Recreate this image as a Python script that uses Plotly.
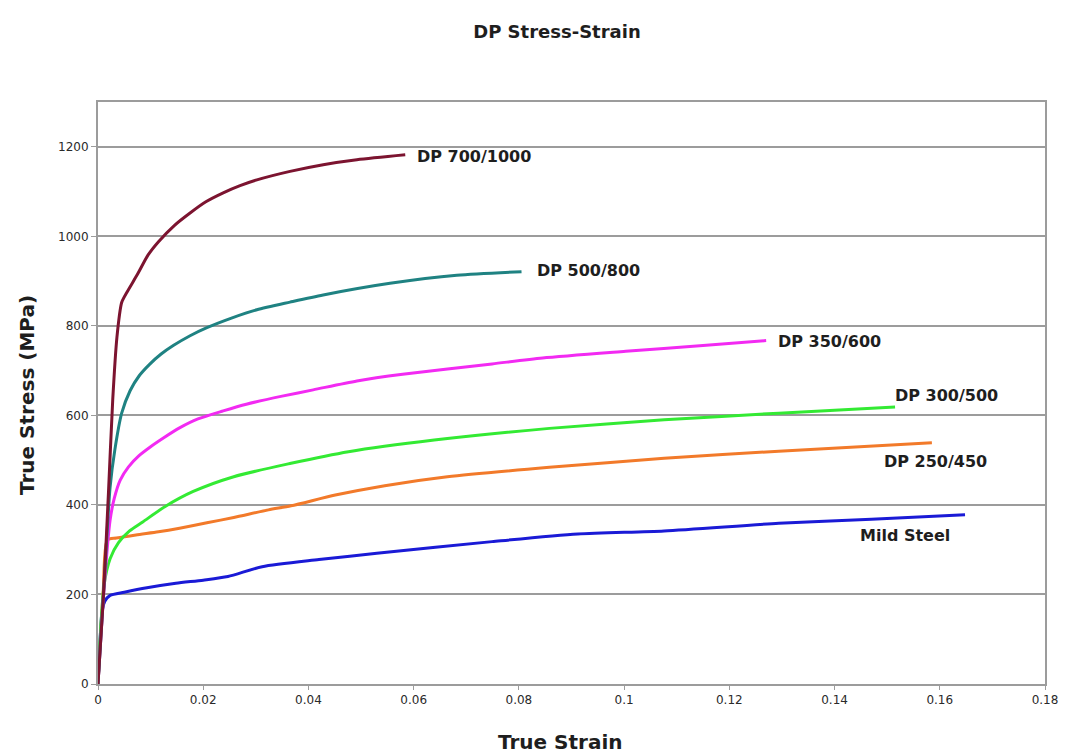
import plotly.graph_objects as go

# True stress-strain curves for dual-phase steels and mild steel
mild_x = [0, 0.0004, 0.0008, 0.0013, 0.0023, 0.005, 0.0093, 0.0148, 0.0200, 0.0247,
          0.0312, 0.0420, 0.053, 0.0749, 0.0912, 0.1076, 0.1294, 0.1470, 0.1648]
mild_y = [0, 100, 165, 185, 198, 205, 215, 225, 232, 240,
          262, 278, 292, 318, 335, 342, 359, 368, 378]

dp250_x = [0, 0.001, 0.0018, 0.0035, 0.0072, 0.0115, 0.0155, 0.0207, 0.0258, 0.0324,
           0.0367, 0.0451, 0.0545, 0.0664, 0.0858, 0.1076, 0.1294, 0.1585]
dp250_y = [0, 210, 322, 326, 333, 340, 348, 360, 372, 389,
           398, 422, 443, 463, 484, 504, 520, 539]

dp300_x = [0, 0.0006, 0.0012, 0.0023, 0.0039, 0.006, 0.0085, 0.0127, 0.0181, 0.0258,
           0.0367, 0.0476, 0.0639, 0.0858, 0.1076, 0.1294, 0.1515]
dp300_y = [0, 140, 225, 280, 316, 342, 362, 396, 430, 463,
           493, 519, 545, 571, 590, 605, 619]

dp350_x = [0, 0.0012, 0.0023, 0.0031, 0.0042, 0.0058, 0.0078, 0.0100, 0.0125, 0.0155,
           0.019, 0.0238, 0.0282, 0.035, 0.0409, 0.0492, 0.0579, 0.0749, 0.0845,
           0.1003, 0.115, 0.127]
dp350_y = [0, 220, 366, 415, 455, 485, 510, 530, 550, 572,
           592, 610, 625, 643, 657, 677, 692, 715, 728,
           743, 756, 767]

dp500_x = [0, 0.0012, 0.0023, 0.0032, 0.0045, 0.0061, 0.0078, 0.0098, 0.0120, 0.0143,
           0.0175, 0.0207, 0.0255, 0.0302, 0.0365, 0.0428, 0.0555, 0.0682, 0.0805]
dp500_y = [0, 230, 440, 523, 605, 655, 688, 714, 737, 756,
           778, 796, 818, 836, 853, 869, 895, 913, 921]

dp700_x = [0, 0.001, 0.002, 0.0028, 0.0036, 0.0045, 0.0055, 0.0075, 0.0095, 0.0115,
           0.0145, 0.0175, 0.0205, 0.0238, 0.0270, 0.0302, 0.0365, 0.0428, 0.0492, 0.0584]
dp700_y = [0, 190, 430, 635, 775, 852, 875, 915, 958, 988,
           1024, 1052, 1077, 1097, 1113, 1126, 1145, 1160, 1171, 1182]

series_names = ["Mild Steel", "DP 250/450", "DP 300/500", "DP 350/600", "DP 500/800", "DP 700/1000"]
series_x = [mild_x, dp250_x, dp300_x, dp350_x, dp500_x, dp700_x]
series_y = [mild_y, dp250_y, dp300_y, dp350_y, dp500_y, dp700_y]
colors = ["#1a1ad6", "#f27a2a", "#33ea33", "#f22af2", "#1f8282", "#7c1430"]

# Curve label anchor points (strain, stress)
label_x = [0.1445, 0.149, 0.1512, 0.1289, 0.0831, 0.0603]
label_y = [331, 496, 644, 766, 923, 1178]

y_ticks = [0, 200, 400, 600, 800, 1000, 1200]
x_ticks = [0, 0.02, 0.04, 0.06, 0.08, 0.1, 0.12, 0.14, 0.16, 0.18]

fig = go.Figure()
for name, xs, ys, c in zip(series_names, series_x, series_y, colors):
    fig.add_trace(go.Scatter(
        x=xs, y=ys, mode="lines", name=name,
        line=dict(color=c, width=3, shape="spline", smoothing=0.7),
        showlegend=False,
    ))

label_font = dict(family="DejaVu Sans", size=16, color="#1e1e1e", weight="bold")
for name, lx, ly in zip(series_names, label_x, label_y):
    fig.add_annotation(x=lx, y=ly, text=name, showarrow=False,
                       xanchor="left", yanchor="middle", font=label_font)

# Axis titles placed in paper coordinates
axis_title_font = dict(family="DejaVu Sans", size=20, color="#1e1e1e", weight="bold")
fig.add_annotation(text="True Strain", xref="paper", yref="paper", x=0.488, y=-0.0997,
                   xanchor="center", yanchor="middle", showarrow=False, font=axis_title_font)
fig.add_annotation(text="True Stress (MPa)", xref="paper", yref="paper", x=-0.075, y=0.4966,
                   xanchor="center", yanchor="middle", textangle=-90, showarrow=False,
                   font=axis_title_font)

grid_color = "#9c9c9c"
fig.update_layout(
    width=1068, height=755,
    margin=dict(l=98, r=23, t=102, b=71),
    paper_bgcolor="white", plot_bgcolor="white",
    title=dict(text="DP Stress-Strain", xref="container", yref="container",
               x=0.5215, y=1 - 32 / 755, xanchor="center", yanchor="middle",
               font=dict(family="DejaVu Sans", size=18, color="#1e1e1e", weight="bold")),
)
fig.update_xaxes(
    range=[0, 0.18], tickvals=x_ticks, showgrid=False, zeroline=False, automargin=False,
    showline=True, linecolor=grid_color, linewidth=2, mirror=True,
    ticks="outside", ticklen=4, tickcolor=grid_color,
    tickfont=dict(family="DejaVu Sans", size=12, color="#2a2a2a"),
)
fig.update_yaxes(
    range=[0, 1300], tickvals=y_ticks, showgrid=True, gridcolor=grid_color, gridwidth=1.8,
    zeroline=False, automargin=False, showline=True, linecolor=grid_color, linewidth=2, mirror=True,
    ticks="outside", ticklen=5, tickcolor=grid_color,
    tickfont=dict(family="DejaVu Sans", size=12, color="#2a2a2a"),
)

fig.write_html("out.html")
